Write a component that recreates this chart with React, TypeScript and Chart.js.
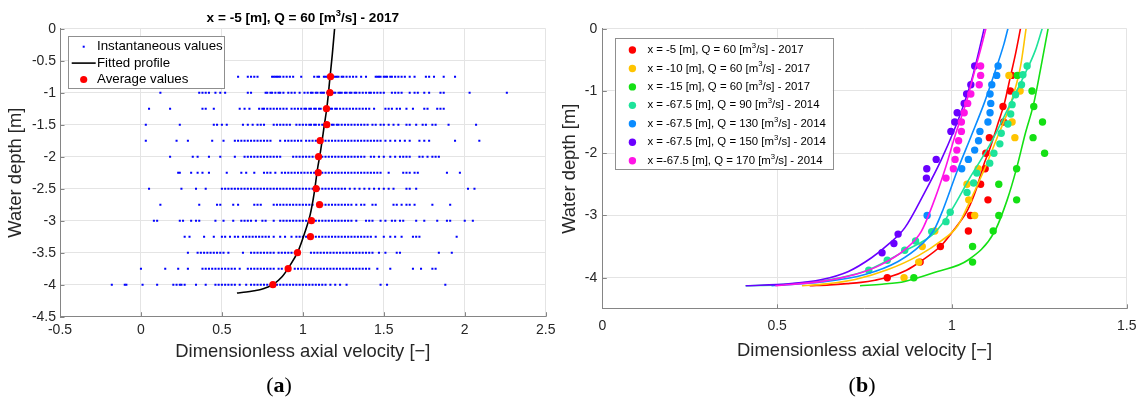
import React, { useEffect, useRef } from 'react';
import { Chart, registerables } from 'chart.js';

Chart.register(...registerables);

const FONT = "'Liberation Sans', Arial, Helvetica, sans-serif";
const SERIF = "'Liberation Serif', 'DejaVu Serif', serif";
const TEXT = '#262626';
const AXIS = '#858585';
const GRID = '#e4e4e4';

// ---------------- Panel (a) ----------------
const depthLevels = [-0.75, -1, -1.25, -1.5, -1.75, -2, -2.25, -2.5, -2.75, -3, -3.25, -3.5, -3.75, -4];

const instAt075 = [0.51, 0.6, 0.66, 0.68, 0.7, 0.72, 0.81, 0.82, 0.83, 0.84, 0.85, 0.86, 0.88, 0.9, 0.92, 0.94, 0.99, 1.07, 1.09, 1.1, 1.13, 1.14, 1.15, 1.16, 1.18, 1.19, 1.2, 1.21, 1.22, 1.24, 1.25, 1.27, 1.29, 1.31, 1.33, 1.36, 1.39, 1.45, 1.46, 1.47, 1.48, 1.5, 1.51, 1.52, 1.54, 1.55, 1.57, 1.59, 1.61, 1.63, 1.66, 1.69, 1.76, 1.78, 1.81, 1.87, 1.94];
const instAt100 = [0.12, 0.36, 0.38, 0.4, 0.42, 0.46, 0.49, 0.52, 0.66, 0.68, 0.77, 0.78, 0.8, 0.81, 0.83, 0.85, 0.86, 0.88, 0.91, 0.93, 0.95, 0.98, 1.01, 1.03, 1.05, 1.06, 1.08, 1.09, 1.11, 1.12, 1.13, 1.15, 1.17, 1.18, 1.19, 1.2, 1.22, 1.23, 1.24, 1.26, 1.27, 1.29, 1.3, 1.32, 1.33, 1.35, 1.37, 1.39, 1.41, 1.42, 1.44, 1.46, 1.48, 1.5, 1.55, 1.57, 1.59, 1.61, 1.66, 1.69, 1.71, 1.75, 1.78, 1.85, 1.87, 2.03, 2.26];
const instAt125 = [0.05, 0.18, 0.38, 0.4, 0.45, 0.61, 0.64, 0.67, 0.73, 0.75, 0.76, 0.78, 0.8, 0.82, 0.84, 0.86, 0.88, 0.9, 0.93, 0.95, 0.97, 0.99, 1.01, 1.02, 1.04, 1.05, 1.07, 1.08, 1.1, 1.11, 1.13, 1.14, 1.15, 1.17, 1.18, 1.2, 1.21, 1.23, 1.25, 1.27, 1.29, 1.31, 1.33, 1.35, 1.37, 1.39, 1.41, 1.44, 1.51, 1.53, 1.55, 1.58, 1.6, 1.64, 1.68, 1.75, 1.77, 1.83, 1.85, 1.87];
const instAt150 = [0.03, 0.24, 0.45, 0.47, 0.5, 0.53, 0.63, 0.66, 0.69, 0.72, 0.74, 0.76, 0.82, 0.84, 0.86, 0.88, 0.9, 0.92, 0.96, 0.98, 1.0, 1.02, 1.04, 1.05, 1.07, 1.08, 1.1, 1.12, 1.13, 1.15, 1.16, 1.18, 1.19, 1.21, 1.22, 1.24, 1.26, 1.28, 1.3, 1.32, 1.34, 1.36, 1.38, 1.4, 1.43, 1.45, 1.48, 1.5, 1.53, 1.56, 1.59, 1.64, 1.66, 1.7, 1.74, 1.76, 1.8, 1.82, 1.9, 2.07];
const instAt175 = [0.03, 0.22, 0.29, 0.44, 0.51, 0.58, 0.6, 0.62, 0.64, 0.66, 0.68, 0.7, 0.72, 0.74, 0.76, 0.78, 0.8, 0.86, 0.89, 0.91, 0.93, 0.95, 0.97, 0.99, 1.02, 1.04, 1.06, 1.08, 1.1, 1.12, 1.14, 1.16, 1.18, 1.2, 1.22, 1.24, 1.26, 1.28, 1.3, 1.32, 1.34, 1.36, 1.38, 1.4, 1.42, 1.44, 1.46, 1.48, 1.51, 1.54, 1.57, 1.6, 1.63, 1.66, 1.72, 1.75, 1.78, 1.94, 2.09];
const instAt200 = [0.18, 0.32, 0.35, 0.42, 0.49, 0.58, 0.64, 0.66, 0.68, 0.7, 0.72, 0.74, 0.76, 0.78, 0.8, 0.82, 0.84, 0.86, 0.94, 0.96, 0.98, 1.0, 1.02, 1.04, 1.06, 1.08, 1.1, 1.12, 1.14, 1.16, 1.18, 1.2, 1.22, 1.24, 1.26, 1.28, 1.3, 1.32, 1.34, 1.36, 1.38, 1.42, 1.44, 1.47, 1.5, 1.54, 1.57, 1.6, 1.62, 1.64, 1.66, 1.72, 1.74, 1.77, 1.8, 1.82, 1.84];
const instAt225 = [0.23, 0.24, 0.31, 0.35, 0.38, 0.42, 0.53, 0.62, 0.65, 0.7, 0.76, 0.78, 0.8, 0.83, 0.87, 0.89, 0.91, 0.93, 0.95, 0.97, 0.99, 1.01, 1.03, 1.05, 1.07, 1.1, 1.12, 1.14, 1.16, 1.18, 1.2, 1.22, 1.24, 1.26, 1.28, 1.3, 1.32, 1.34, 1.36, 1.38, 1.4, 1.42, 1.44, 1.46, 1.48, 1.53, 1.62, 1.64, 1.66, 1.69, 1.71, 1.89, 1.97];
const instAt250 = [0.05, 0.25, 0.34, 0.4, 0.5, 0.52, 0.54, 0.56, 0.58, 0.6, 0.62, 0.64, 0.66, 0.68, 0.7, 0.72, 0.74, 0.76, 0.78, 0.8, 0.82, 0.84, 0.86, 0.88, 0.9, 0.92, 0.94, 0.96, 0.98, 1.0, 1.02, 1.04, 1.06, 1.08, 1.1, 1.12, 1.14, 1.16, 1.18, 1.2, 1.22, 1.24, 1.26, 1.29, 1.32, 1.35, 1.38, 1.41, 1.44, 1.47, 1.5, 1.53, 1.56, 1.64, 1.66, 1.7, 2.02, 2.06];
const instAt275 = [0.12, 0.36, 0.47, 0.49, 0.57, 0.6, 0.7, 0.72, 0.74, 0.82, 0.84, 0.86, 0.88, 0.9, 0.92, 0.94, 0.96, 0.98, 1.0, 1.02, 1.04, 1.06, 1.1, 1.12, 1.14, 1.16, 1.18, 1.2, 1.22, 1.24, 1.26, 1.28, 1.3, 1.33, 1.36, 1.38, 1.43, 1.45, 1.56, 1.58, 1.61, 1.64, 1.66, 1.69, 1.8, 1.91];
const instAt300 = [0.08, 0.1, 0.24, 0.26, 0.31, 0.34, 0.36, 0.46, 0.51, 0.57, 0.62, 0.64, 0.66, 0.68, 0.71, 0.75, 0.77, 0.82, 0.86, 0.88, 0.9, 0.92, 0.94, 0.96, 0.98, 1.0, 1.02, 1.04, 1.06, 1.08, 1.1, 1.12, 1.14, 1.16, 1.18, 1.2, 1.22, 1.24, 1.26, 1.28, 1.3, 1.33, 1.39, 1.41, 1.43, 1.48, 1.51, 1.55, 1.57, 1.6, 1.62, 1.7, 1.75, 1.83, 1.89, 1.91, 2.0, 2.05];
const instAt325 = [0.27, 0.3, 0.39, 0.45, 0.5, 0.52, 0.55, 0.58, 0.6, 0.63, 0.65, 0.67, 0.69, 0.71, 0.73, 0.75, 0.77, 0.79, 0.82, 0.86, 0.89, 0.93, 0.96, 0.98, 1.0, 1.02, 1.04, 1.06, 1.08, 1.1, 1.12, 1.14, 1.16, 1.18, 1.2, 1.22, 1.24, 1.26, 1.28, 1.3, 1.32, 1.34, 1.36, 1.38, 1.4, 1.42, 1.45, 1.5, 1.54, 1.57, 1.61, 1.68, 1.7, 1.72, 1.95];
const instAt350 = [0.29, 0.35, 0.37, 0.39, 0.41, 0.43, 0.45, 0.47, 0.49, 0.51, 0.54, 0.63, 0.68, 0.7, 0.72, 0.74, 0.76, 0.78, 0.8, 0.82, 0.85, 0.87, 0.89, 0.91, 0.93, 0.95, 0.97, 1.05, 1.07, 1.09, 1.11, 1.13, 1.15, 1.17, 1.19, 1.21, 1.23, 1.25, 1.27, 1.29, 1.31, 1.33, 1.35, 1.37, 1.39, 1.41, 1.43, 1.47, 1.51, 1.58, 1.6, 1.84, 1.92];
const instAt375 = [0.0, 0.15, 0.23, 0.29, 0.38, 0.4, 0.42, 0.44, 0.46, 0.48, 0.5, 0.52, 0.54, 0.56, 0.58, 0.61, 0.66, 0.68, 0.7, 0.72, 0.74, 0.76, 0.78, 0.8, 0.82, 0.85, 0.87, 0.95, 0.97, 0.99, 1.01, 1.03, 1.05, 1.07, 1.09, 1.11, 1.13, 1.15, 1.17, 1.19, 1.21, 1.23, 1.25, 1.27, 1.29, 1.31, 1.33, 1.35, 1.37, 1.39, 1.41, 1.46, 1.54, 1.68, 1.73, 1.8, 1.82];
const instAt400 = [-0.18, -0.1, -0.09, 0.01, 0.1, 0.2, 0.22, 0.24, 0.25, 0.27, 0.34, 0.4, 0.46, 0.48, 0.5, 0.52, 0.54, 0.56, 0.58, 0.61, 0.65, 0.68, 0.7, 0.72, 0.74, 0.76, 0.78, 0.8, 0.82, 0.84, 0.86, 0.88, 0.9, 0.92, 0.94, 0.96, 0.98, 1.0, 1.02, 1.04, 1.06, 1.08, 1.1, 1.12, 1.14, 1.17, 1.2, 1.23, 1.27, 1.48, 1.52, 1.88];
const instRows = [instAt075, instAt100, instAt125, instAt150, instAt175, instAt200, instAt225, instAt250, instAt275, instAt300, instAt325, instAt350, instAt375, instAt400];

// average values (also the x = -5 m series of panel b)
const avgVelocity = [1.171, 1.167, 1.146, 1.148, 1.107, 1.097, 1.095, 1.082, 1.103, 1.053, 1.047, 0.967, 0.909, 0.815];

// fitted profile (also the red curve of panel b)
const fitVelocity = [0.593, 0.65, 0.7, 0.74, 0.78, 0.82, 0.87, 0.91, 0.97, 1.01, 1.045, 1.07, 1.09, 1.107, 1.133, 1.15, 1.168, 1.182, 1.196];
const fitDepth = [-4.13, -4.115, -4.095, -4.075, -4.04, -3.99, -3.88, -3.74, -3.48, -3.2, -2.91, -2.57, -2.2, -1.95, -1.5, -1.2, -0.75, -0.4, 0];

const leftXTicks = [-0.5, 0, 0.5, 1, 1.5, 2, 2.5];
const leftYTicks = [-4.5, -4, -3.5, -3, -2.5, -2, -1.5, -1, -0.5, 0];

// ---------------- Panel (b) ----------------
const yellowDepth = [-0.75, -1, -1.5, -1.75, -2.25, -2.5, -2.75, -3, -3.25, -3.5, -3.75, -4];
const yellowVel = [1.163, 1.195, 1.172, 1.18, 1.075, 1.043, 1.048, 1.065, 0.951, 0.915, 0.905, 0.863];
const yellowFitVel = [0.571, 0.64, 0.723, 0.817, 0.903, 0.969, 1.016, 1.045, 1.092, 1.13, 1.168, 1.196, 1.212];
const yellowFitDepth = [-4.13, -4.1, -4.03, -3.87, -3.65, -3.41, -3.17, -2.85, -2.27, -1.74, -1.2, -0.61, 0];

const greenVel = [1.187, 1.229, 1.234, 1.259, 1.232, 1.265, 1.185, 1.134, 1.185, 1.134, 1.118, 1.059, 1.059, 0.891];
const greenFitVel = [0.737, 0.8, 0.865, 0.959, 1.045, 1.12, 1.158, 1.185, 1.21, 1.234, 1.253, 1.267, 1.275];
const greenFitDepth = [-4.13, -4.105, -4.06, -3.9, -3.72, -3.28, -2.75, -2.24, -1.68, -1.2, -0.66, -0.24, 0];

const mintDepth = [-0.6, -0.74, -0.9, -1.06, -1.22, -1.37, -1.53, -1.68, -1.85, -2.0, -2.16, -2.32, -2.48, -2.63, -2.95, -3.1, -3.26, -3.41, -3.56, -3.72, -3.88];
const mintVel = [1.215, 1.203, 1.199, 1.182, 1.172, 1.168, 1.16, 1.141, 1.137, 1.12, 1.108, 1.071, 1.062, 1.043, 0.995, 0.983, 0.942, 0.896, 0.865, 0.815, 0.762];
const mintFitVel = [0.41, 0.5, 0.581, 0.68, 0.759, 0.865, 0.95, 0.995, 1.054, 1.111, 1.158, 1.205, 1.239, 1.258];
const mintFitDepth = [-4.13, -4.115, -4.08, -4.0, -3.88, -3.57, -3.28, -2.95, -2.37, -1.84, -1.31, -0.77, -0.34, 0];

const blueDepth = [-0.6, -0.75, -0.9, -1.05, -1.2, -1.35, -1.5, -1.65, -1.8, -1.95, -2.1, -2.25, -3.0];
const blueVel = [1.132, 1.128, 1.114, 1.109, 1.111, 1.109, 1.103, 1.08, 1.076, 1.065, 1.047, 1.028, 0.929];
const blueFitVel = [0.484, 0.628, 0.751, 0.846, 0.912, 0.95, 0.975, 1.016, 1.054, 1.092, 1.125, 1.149, 1.16];
const blueFitDepth = [-4.13, -4.07, -3.95, -3.74, -3.47, -3.22, -2.9, -2.27, -1.74, -1.2, -0.66, -0.24, 0];

const purpleDepth = [-0.6, -0.9, -1.05, -1.2, -1.35, -1.5, -1.65, -2.1, -2.25, -2.4, -3.3, -3.45, -3.6];
const purpleVel = [1.065, 1.054, 1.042, 1.035, 1.015, 1.008, 0.997, 0.955, 0.928, 0.927, 0.846, 0.834, 0.8];
const purpleFitVel = [0.41, 0.533, 0.628, 0.704, 0.77, 0.817, 0.865, 0.921, 0.969, 1.007, 1.035, 1.059, 1.078, 1.092];
const purpleFitDepth = [-4.13, -4.1, -4.03, -3.9, -3.68, -3.47, -3.2, -2.64, -2.11, -1.62, -1.2, -0.77, -0.34, 0];

const magentaDepth = [-0.6, -0.75, -0.9, -1.05, -1.2, -1.35, -1.5, -1.65, -1.8, -1.95, -2.1, -2.25, -2.4];
const magentaVel = [1.082, 1.082, 1.078, 1.054, 1.045, 1.035, 1.027, 1.027, 1.019, 1.014, 1.009, 1.004, 0.983];
const magentaFitVel = [0.495, 0.628, 0.723, 0.798, 0.865, 0.912, 0.95, 0.983, 1.011, 1.04, 1.063, 1.084, 1.097];
const magentaFitDepth = [-4.13, -4.06, -3.95, -3.79, -3.55, -3.26, -2.75, -2.21, -1.68, -1.2, -0.72, -0.29, 0];

const seriesLabels = [
  'x = -5 [m], Q = 60 [m³/s] - 2017',
  'x = -10 [m], Q = 60 [m³/s] - 2017',
  'x = -15 [m], Q = 60 [m³/s] - 2017',
  'x = -67.5 [m], Q = 90 [m³/s] - 2014',
  'x = -67.5 [m], Q = 130 [m³/s] - 2014',
  'x = -67.5 [m], Q = 150 [m³/s] - 2014',
  'x =-67.5 [m], Q = 170 [m³/s] - 2014',
];
const seriesColors = ['#ff0000', '#ffc400', '#14e014', '#1de39a', '#0a8cff', '#6a00ff', '#ff14e6'];

const rightXTicks = [0, 0.5, 1, 1.5];
const rightYTicks = [-4, -3, -2, -1, 0];

const leftTitle = 'x = -5 [m], Q = 60 [m³/s] - 2017';
const xTitle = 'Dimensionless axial velocity [−]';
const yTitle = 'Water depth [m]';

// ---------------- helpers ----------------
const toPts = (xs: number[], ys: number[]) => xs.map((x, i) => ({ x, y: ys[i] }));

function drawRich(ctx: CanvasRenderingContext2D, text: string, x: number, y: number, size: number, weight: string, align: 'left' | 'center', color: string) {
  const parts = text.split('³');
  const base = `${weight} ${size}px ${FONT}`;
  const sup = `${weight} ${size * 0.68}px ${FONT}`;
  let total = 0;
  parts.forEach((p, i) => {
    ctx.font = base;
    total += ctx.measureText(p).width;
    if (i < parts.length - 1) {
      ctx.font = sup;
      total += ctx.measureText('3').width;
    }
  });
  let cx = align === 'center' ? x - total / 2 : x;
  ctx.textAlign = 'left';
  ctx.textBaseline = 'middle';
  ctx.fillStyle = color;
  parts.forEach((p, i) => {
    ctx.font = base;
    ctx.fillText(p, cx, y);
    cx += ctx.measureText(p).width;
    if (i < parts.length - 1) {
      ctx.font = sup;
      ctx.fillText('3', cx, y - size * 0.36);
      cx += ctx.measureText('3').width;
    }
  });
}

type LegendItem = { label: string; kind: 'dot' | 'line' | 'circle'; color: string };
type Decor = {
  offsetX: number;
  title?: { text: string; y: number; size: number };
  legend: { x: number; y: number; w: number; h: number; firstY: number; step: number; markerX: number; textX: number; size: number; radius: number; items: LegendItem[] };
};

function decorPlugin(d: Decor) {
  return {
    id: 'decor',
    afterDraw(chart: any) {
      const ctx: CanvasRenderingContext2D = chart.ctx;
      const { left, right, bottom } = chart.chartArea;
      const xs = chart.scales.x;
      const ys = chart.scales.y;
      ctx.save();
      ctx.strokeStyle = AXIS;
      ctx.lineWidth = 1;
      ctx.beginPath();
      xs.ticks.forEach((t: any) => {
        const p = Math.round(xs.getPixelForValue(t.value)) + 0.5;
        ctx.moveTo(p, bottom);
        ctx.lineTo(p, bottom - 4.5);
      });
      ys.ticks.forEach((t: any) => {
        const p = Math.round(ys.getPixelForValue(t.value)) + 0.5;
        ctx.moveTo(left, p);
        ctx.lineTo(left + 4.5, p);
      });
      ctx.stroke();
      if (d.title) {
        drawRich(ctx, d.title.text, (left + right) / 2, d.title.y, d.title.size, 'bold', 'center', '#000');
      }
      ctx.translate(-d.offsetX, 0);
      const L = d.legend;
      ctx.fillStyle = '#ffffff';
      ctx.fillRect(L.x, L.y, L.w, L.h);
      ctx.strokeStyle = '#8f8f8f';
      ctx.lineWidth = 1;
      ctx.strokeRect(Math.round(L.x) + 0.5, Math.round(L.y) + 0.5, Math.round(L.w), Math.round(L.h));
      L.items.forEach((it, i) => {
        const cy = L.y + L.firstY + i * L.step;
        if (it.kind === 'line') {
          ctx.strokeStyle = it.color;
          ctx.lineWidth = 1.6;
          ctx.beginPath();
          ctx.moveTo(L.markerX - 12, cy);
          ctx.lineTo(L.markerX + 12, cy);
          ctx.stroke();
        } else if (it.kind === 'dot') {
          ctx.fillStyle = it.color;
          ctx.fillRect(L.markerX - 1, cy - 1, 2, 2);
        } else {
          ctx.fillStyle = it.color;
          ctx.beginPath();
          ctx.arc(L.markerX, cy, L.radius, 0, Math.PI * 2);
          ctx.fill();
        }
        drawRich(ctx, it.label, L.textX, cy, L.size, 'normal', 'left', '#000');
      });
      ctx.restore();
    },
  };
}

function scales(o: {
  xMin: number; xMax: number; yMin: number; yMax: number; xTicks: number[]; yTicks: number[];
  xHeight: number; yWidth: number; xTickPad: number; yTickPad: number; xTitlePad: number; yTitlePad: number;
}) {
  const tickFont = { family: FONT, size: 14 };
  const titleFont = { family: FONT, size: 18.4 };
  return {
    x: {
      type: 'linear',
      min: o.xMin,
      max: o.xMax,
      afterBuildTicks: (s: any) => { s.ticks = o.xTicks.map((v) => ({ value: v })); },
      afterFit: (s: any) => { s.height = o.xHeight; },
      ticks: { font: tickFont, color: TEXT, padding: o.xTickPad, maxRotation: 0, autoSkip: false, callback: (v: any) => String(v) },
      grid: { color: GRID, lineWidth: 1, drawTicks: false },
      border: { color: AXIS, width: 1 },
      title: { display: true, text: xTitle, font: titleFont, color: TEXT, padding: { top: 0, bottom: o.xTitlePad } },
    },
    y: {
      type: 'linear',
      min: o.yMin,
      max: o.yMax,
      afterBuildTicks: (s: any) => { s.ticks = o.yTicks.map((v) => ({ value: v })); },
      afterFit: (s: any) => { s.width = o.yWidth; },
      ticks: { font: tickFont, color: TEXT, padding: o.yTickPad, autoSkip: false, callback: (v: any) => String(v) },
      grid: { color: GRID, lineWidth: 1, drawTicks: false },
      border: { color: AXIS, width: 1 },
      title: { display: true, text: yTitle, font: titleFont, color: TEXT, padding: { top: o.yTitlePad, bottom: 0 } },
    },
  };
}

const commonOpts = {
  responsive: false,
  animation: false,
  devicePixelRatio: 1,
  events: [] as string[],
};

function leftConfig(): any {
  const instPts = instRows.flatMap((row, i) => row.map((v) => ({ x: v, y: depthLevels[i] })));
  return {
    type: 'scatter',
    data: {
      datasets: [
        { label: 'Average values', data: toPts(avgVelocity, depthLevels), pointRadius: 3.6, pointBackgroundColor: '#ff0000', pointBorderWidth: 0, order: 0 },
        { label: 'Fitted profile', data: toPts(fitVelocity, fitDepth), showLine: true, pointRadius: 0, borderColor: '#000000', borderWidth: 1.6, cubicInterpolationMode: 'monotone', order: 1 },
        { label: 'Instantaneous values', data: instPts, pointStyle: 'rect', pointRadius: 1.45, pointBackgroundColor: '#0000ff', pointBorderWidth: 0, order: 2 },
      ],
    },
    options: {
      ...commonOpts,
      layout: { padding: { top: 28.7, right: 29.3, bottom: 0, left: 0 } },
      plugins: { legend: { display: false }, tooltip: { enabled: false }, title: { display: false } },
      scales: scales({ xMin: -0.5, xMax: 2.5, yMin: -4.5, yMax: 0, xTicks: leftXTicks, yTicks: leftYTicks, xHeight: 81.3, yWidth: 60, xTickPad: 5, yTickPad: 4, xTitlePad: 35, yTitlePad: 5 }),
    },
    plugins: [
      decorPlugin({
        offsetX: 0,
        title: { text: leftTitle, y: 18, size: 13.6 },
        legend: {
          x: 68, y: 36, w: 156, h: 52, firstY: 10.7, step: 16.4, markerX: 83.7, textX: 97, size: 13.3, radius: 3.6,
          items: [
            { label: 'Instantaneous values', kind: 'dot', color: '#0000ff' },
            { label: 'Fitted profile', kind: 'line', color: '#000000' },
            { label: 'Average values', kind: 'circle', color: '#ff0000' },
          ],
        },
      }),
    ],
  };
}

function rightConfig(): any {
  const pts = [
    toPts(avgVelocity, depthLevels),
    toPts(yellowVel, yellowDepth),
    toPts(greenVel, depthLevels),
    toPts(mintVel, mintDepth),
    toPts(blueVel, blueDepth),
    toPts(purpleVel, purpleDepth),
    toPts(magentaVel, magentaDepth),
  ];
  const fits = [
    toPts(fitVelocity, fitDepth),
    toPts(yellowFitVel, yellowFitDepth),
    toPts(greenFitVel, greenFitDepth),
    toPts(mintFitVel, mintFitDepth),
    toPts(blueFitVel, blueFitDepth),
    toPts(purpleFitVel, purpleFitDepth),
    toPts(magentaFitVel, magentaFitDepth),
  ];
  const datasets: any[] = [];
  seriesLabels.forEach((lab, i) => {
    datasets.push({ label: lab, data: pts[i], pointRadius: 3.7, pointBackgroundColor: seriesColors[i], pointBorderWidth: 0, order: 100 - 2 * i });
    datasets.push({ label: lab + ' fit', data: fits[i], showLine: true, pointRadius: 0, borderColor: seriesColors[i], borderWidth: 1.6, cubicInterpolationMode: 'monotone', order: 100 - 2 * i + 1 });
  });
  return {
    type: 'scatter',
    data: { datasets },
    options: {
      ...commonOpts,
      layout: { padding: { top: 28.7, right: 15, bottom: 0, left: 0 } },
      plugins: { legend: { display: false }, tooltip: { enabled: false }, title: { display: false } },
      scales: scales({ xMin: 0, xMax: 1.5, yMin: -4.5, yMax: 0, xTicks: rightXTicks, yTicks: rightYTicks, xHeight: 89.2, yWidth: 50.3, xTickPad: 8.5, yTickPad: 5, xTitlePad: 36, yTitlePad: 6.5 }),
    },
    plugins: [
      decorPlugin({
        offsetX: 552,
        legend: {
          x: 614.7, y: 37.7, w: 218, h: 131.3, firstY: 12.3, step: 18.45, markerX: 632.4, textX: 647.4, size: 11.4, radius: 3.7,
          items: seriesLabels.map((l, i) => ({ label: l, kind: 'circle' as const, color: seriesColors[i] })),
        },
      }),
    ],
  };
}

export default function App() {
  const leftRef = useRef<HTMLCanvasElement>(null);
  const rightRef = useRef<HTMLCanvasElement>(null);
  useEffect(() => {
    const c1 = new Chart(leftRef.current as HTMLCanvasElement, leftConfig());
    const c2 = new Chart(rightRef.current as HTMLCanvasElement, rightConfig());
    return () => {
      c1.destroy();
      c2.destroy();
    };
  }, []);
  const cap: React.CSSProperties = {
    position: 'absolute', top: 385, transform: 'translate(-50%, -50%)', fontFamily: SERIF, fontSize: 22, color: '#000', lineHeight: 1, whiteSpace: 'nowrap',
  };
  return (
    <div style={{ position: 'fixed', left: 0, top: 0, width: 1145, height: 398, background: '#ffffff', overflow: 'hidden' }}>
      <canvas ref={leftRef} width={575} height={398} style={{ position: 'absolute', left: 0, top: 0, width: 575, height: 398 }} />
      <canvas ref={rightRef} width={593} height={398} style={{ position: 'absolute', left: 552, top: 0, width: 593, height: 398 }} />
      <div style={{ ...cap, left: 279 }}>(<b>a</b>)</div>
      <div style={{ ...cap, left: 862 }}>(<b>b</b>)</div>
    </div>
  );
}
